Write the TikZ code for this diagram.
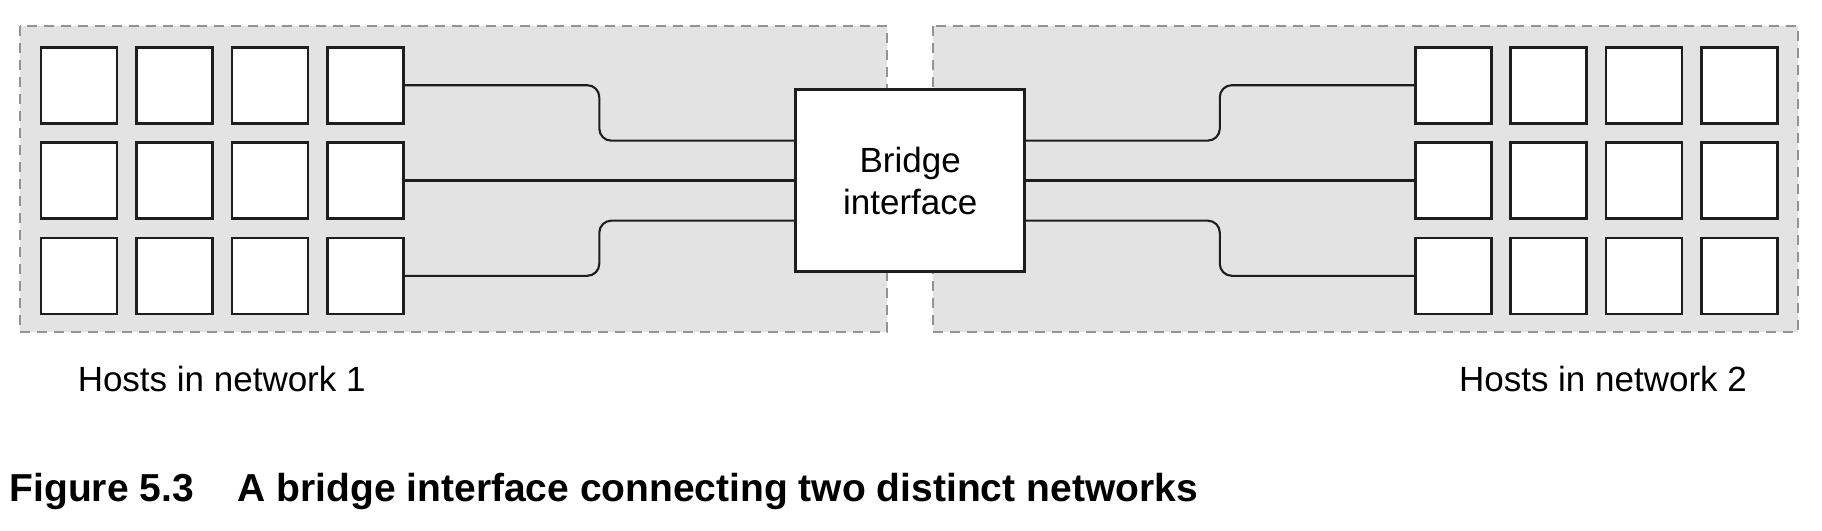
\documentclass[tikz,border=0pt]{standalone}
\usepackage{fontspec}
\setmainfont{Liberation Sans}
\usetikzlibrary{positioning,calc}
\definecolor{zonegray}{HTML}{E3E3E3}
\definecolor{dashgray}{HTML}{939393}
\definecolor{inkdark}{HTML}{1E1E1E}
\tikzset{host/.style={draw=inkdark, line width=2.6pt, fill=white, minimum size=76pt, inner sep=0pt}}
\tikzset{zone/.style={draw=dashgray, fill=zonegray, line width=2.2pt, dash pattern=on 10pt off 7pt}}
\tikzset{wire/.style={draw=inkdark, line width=2.1pt, rounded corners=12pt}}
\tikzset{bridgebox/.style={draw=inkdark, line width=2.7pt, fill=white, minimum width=229pt, minimum height=182pt, align=center, font=\fontsize{35}{42.3}\selectfont}}
\tikzset{lbl/.style={font=\fontsize{35}{42}\selectfont, anchor=base}}

\begin{document}
\begin{tikzpicture}[x=1pt, y=-1pt]
		\useasboundingbox (0,0) rectangle (1822,530);
		% the two networks
		\draw[zone] (19.8,26) rectangle (887.2,331.7);
		\draw[zone] (932.8,26) rectangle (1798,331.7);
		
		\foreach \r in {1,2,3}{
			\foreach \c in {1,...,4}{
				\node[host] (A\r\c) at ({79+95.4*(\c-1)},{85.2+95.3*(\r-1)}){};
				\node[host] (B\r\c) at ({1453.3+95.4*(\c-1)},{85.2+95.3*(\r-1)}){};
			}}
		
		\node[bridgebox] (bridge) at (910.2,180.65){Bridge\\interface};
		
		\coordinate (bwu) at ([yshift=40pt]bridge.west);
		\coordinate (bwd) at ([yshift=-40pt]bridge.west);
		\coordinate (beu) at ([yshift=40pt]bridge.east);
		\coordinate (bed) at ([yshift=-40pt]bridge.east);
		\coordinate (lstep) at (599.3,0);
		\coordinate (rstep) at (1219.8,0);
		
		\draw[wire] (A14.east) -- (A14.east -| lstep) -- (lstep |- bwu) -- (bwu);
		\draw[wire] (A24.east) -- (A24.east -| bridge.west);
		\draw[wire] (A34.east) -- (A34.east -| lstep) -- (lstep |- bwd) -- (bwd);
		\draw[wire] (beu) -- (beu -| rstep) -- (rstep |- B11.west) -- (B11.west);
		\draw[wire] (B21.west -| bridge.east) -- (B21.west);
		\draw[wire] (bed) -- (bed -| rstep) -- (rstep |- B31.west) -- (B31.west);
		
		\node[lbl] (netA) at (221.7,391.7){Hosts in network 1};
		\node[lbl] (netB) at (1603,391.7){Hosts in network 2};
		
		\node[anchor=base west, inner sep=0pt, font=\bfseries\fontsize{39}{47}\selectfont] (caption) at (9.3,501){Figure 5.3\hspace{44pt}A bridge interface connecting two distinct networks};
	\end{tikzpicture}
\end{document}
